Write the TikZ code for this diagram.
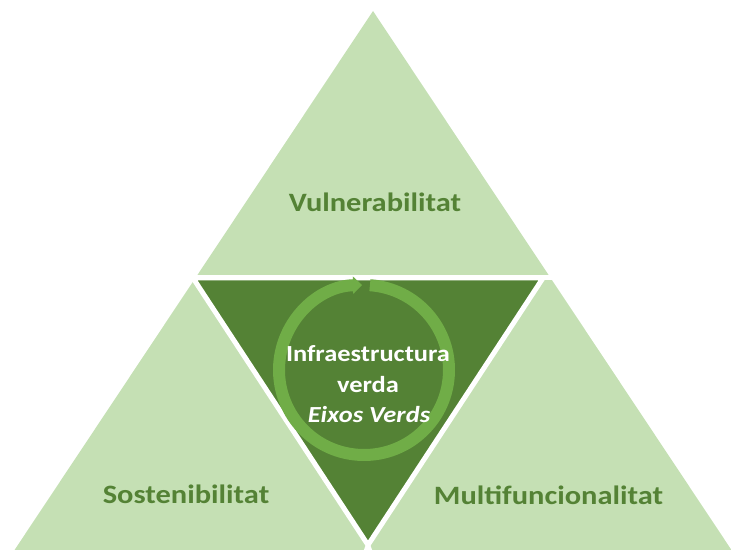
\documentclass[tikz,border=0pt]{standalone}
\usepackage{fontspec}
\setmainfont{Carlito}[FakeStretch=1.15]
\usetikzlibrary{arrows.meta}

\definecolor{lightgreen}{HTML}{C5E0B4}
\definecolor{darkgreen}{HTML}{548235}
\definecolor{ringgreen}{HTML}{70AD47}

\begin{document}
\begin{tikzpicture}[x=1pt, y=1pt,
    sidetext/.style={anchor=base, text=darkgreen, font=\fontsize{26.5}{32}\selectfont\bfseries},
    coretext/.style={anchor=base, text=white, font=\fontsize{23}{30}\selectfont\bfseries}]
        \useasboundingbox (0,0) rectangle (731,549);
        \clip (0,0) rectangle (731,549);

        \coordinate (top) at (373,538);
        \coordinate (bl) at (11.2,-6);
        \coordinate (br) at (734.8,-6);
        \coordinate (cl) at (193,271);
        \coordinate (cr) at (543,271);
        \coordinate (cb) at (368,4);

        % outer triangle, cut in four by white gaps
        \fill[lightgreen] (top) -- (bl) -- (br) -- cycle;
        \draw[white, line width=5pt] (150,271) -- (600,271);
        \fill[white] (368,10) -- (362,-6) -- (374,-6) -- cycle;
        \filldraw[fill=darkgreen, draw=white, line width=5pt] (cl) -- (cr) -- (cb) -- cycle;

        \draw[ringgreen, line width=12pt, -{Triangle[width=17pt, length=9pt]}]
            (364,179) ++(86:85) arc[start angle=86, end angle=-268.7, radius=85];

        \node[sidetext] (vuln) at (375,337.5) {Vulnerabilitat};
        \node[sidetext] (sost) at (186,45.5) {Sostenibilitat};
        \node[sidetext] (multi) at (548.5,45) {Multifuncionalitat};

        \node[coretext] (infra) at (368,187.5) {Infraestructura};
        \node[coretext] (verda) at (368,156.5) {verda};
        \node[coretext] (eixos) at (369,126.5) {\itshape Eixos Verds};
    \end{tikzpicture}
\end{document}
